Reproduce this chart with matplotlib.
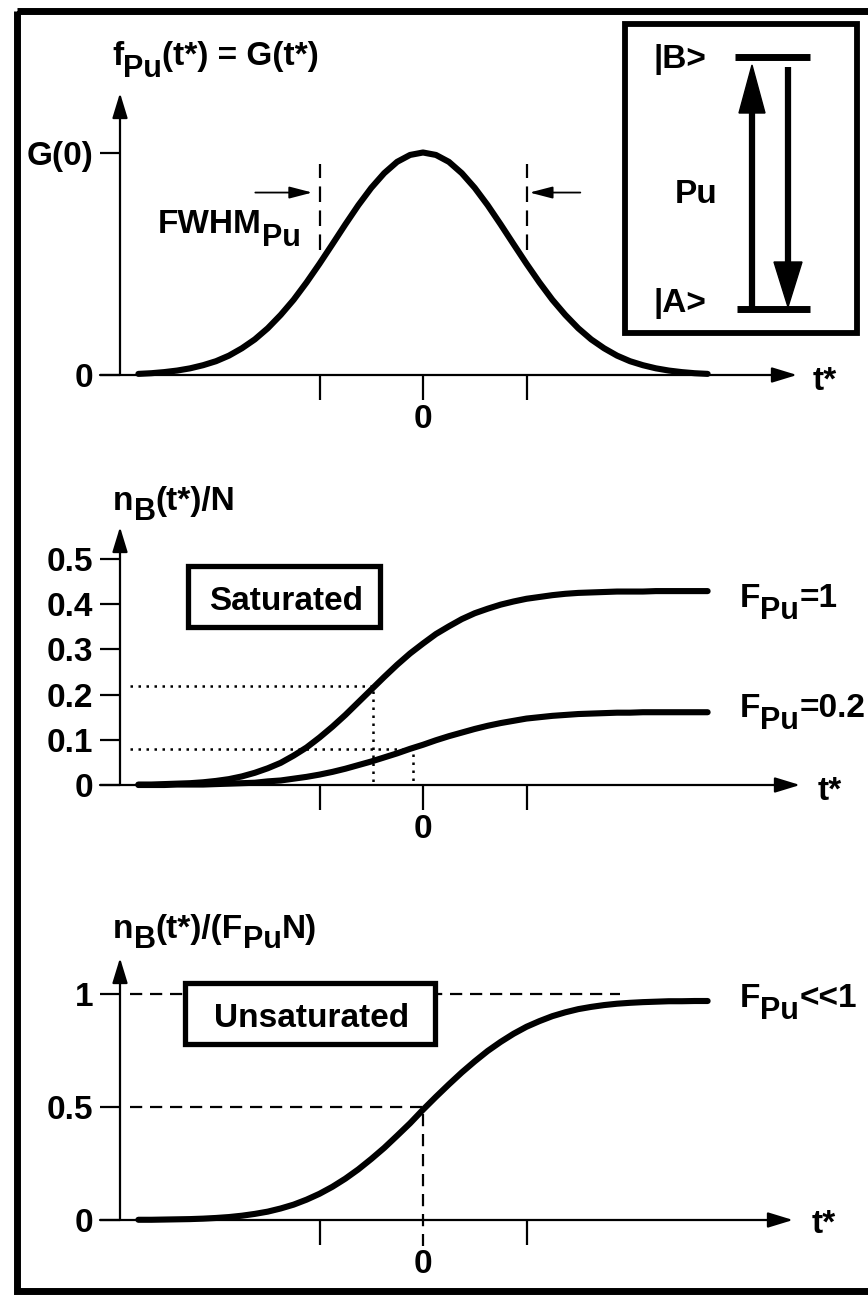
import matplotlib
matplotlib.use('Agg')
import matplotlib.pyplot as plt
from matplotlib.patches import Rectangle, Polygon

plt.rcParams['font.family'] = ['Liberation Sans', 'DejaVu Sans']
plt.rcParams['font.weight'] = 'bold'

W, H, DPI = 868, 1295, 100

# ---------------- data ----------------
t_star = [-2.75, -2.625, -2.5, -2.375, -2.25, -2.125, -2.0, -1.875, -1.75, -1.625, -1.5,
          -1.375, -1.25, -1.125, -1.0, -0.875, -0.75, -0.625, -0.5, -0.375, -0.25, -0.125,
          0.0, 0.125, 0.25, 0.375, 0.5, 0.625, 0.75, 0.875, 1.0, 1.125, 1.25, 1.375, 1.5,
          1.625, 1.75, 1.875, 2.0, 2.125, 2.25, 2.375, 2.5, 2.625, 2.75]
pulse_G = [0.005, 0.008, 0.013, 0.020, 0.030, 0.044, 0.062, 0.087, 0.120, 0.160, 0.210,
           0.270, 0.338, 0.416, 0.500, 0.588, 0.677, 0.763, 0.841, 0.907, 0.958, 0.989,
           1.000, 0.989, 0.958, 0.907, 0.841, 0.763, 0.677, 0.588, 0.500, 0.416, 0.338, 0.270, 0.210,
           0.160, 0.120, 0.087, 0.062, 0.044, 0.030, 0.020, 0.013, 0.008, 0.005]
nB_F1 = [0.001, 0.001, 0.002, 0.003, 0.004, 0.006, 0.009, 0.013, 0.019, 0.027, 0.037,
         0.049, 0.065, 0.083, 0.105, 0.129, 0.155, 0.183, 0.211, 0.239, 0.266, 0.291,
         0.313, 0.334, 0.351, 0.367, 0.380, 0.390, 0.399, 0.406, 0.412, 0.416, 0.420, 0.423, 0.425,
         0.426, 0.427, 0.428, 0.428, 0.428, 0.429, 0.429, 0.429, 0.429, 0.429]
nB_F02 = [0.000, 0.000, 0.000, 0.001, 0.001, 0.001, 0.002, 0.003, 0.004, 0.005, 0.008,
          0.010, 0.014, 0.018, 0.023, 0.029, 0.036, 0.044, 0.052, 0.061, 0.070, 0.080,
          0.089, 0.099, 0.108, 0.116, 0.124, 0.131, 0.137, 0.142, 0.147, 0.150, 0.153, 0.155, 0.157,
          0.158, 0.159, 0.160, 0.160, 0.161, 0.161, 0.161, 0.161, 0.161, 0.161]
nB_unsat = [0.001, 0.001, 0.002, 0.003, 0.004, 0.006, 0.009, 0.013, 0.019, 0.027, 0.037,
            0.051, 0.068, 0.090, 0.116, 0.147, 0.183, 0.224, 0.270, 0.319, 0.373, 0.428,
            0.488, 0.545, 0.600, 0.653, 0.702, 0.748, 0.788, 0.824, 0.855, 0.880, 0.902, 0.919, 0.933,
            0.943, 0.951, 0.957, 0.961, 0.964, 0.966, 0.968, 0.968, 0.969, 0.969]

fwhm_edges = [-1.0, 1.0]
fwhm_span = [0.56, 0.95]
x_ticks = [-1.0, 0.0, 1.0]
x_ticklabels = ['', '0', '']
p1_yticks = [0.0, 1.0]
p1_yticklabels = ['0', 'G(0)']
p2_yticks = [0.0, 0.1, 0.2, 0.3, 0.4, 0.5]
p2_yticklabels = ['0', '0.1', '0.2', '0.3', '0.4', '0.5']
p3_yticks = [0.0, 0.5, 1.0]
p3_yticklabels = ['0', '0.5', '1']
sat_marks_y = [0.22, 0.08]
sat_marks_t = [-0.48, -0.10]
unsat_levels = [1.0, 0.5]
unsat_level_ends = [1.90, 0.0]

# ---------------- layout ----------------
FS = 24
SUBFS = 22
T0, SX = 423.0, 103.5
YAX_PX, XSTART_PX = 120, 100
L_PX, R_PX = 20, 862

fig = plt.figure(figsize=(W / DPI, H / DPI), dpi=DPI)
fig.patch.set_facecolor('white')


def tx(px):
    return (px - T0) / SX


def make_panel(ytop, ybot, y0, sy, xtip_px, ytip_px, yticks, yticklabels):
    ax = fig.add_axes([L_PX / W, 1 - ybot / H, (R_PX - L_PX) / W, (ybot - ytop) / H])
    ax.set_xlim(tx(L_PX), tx(R_PX))
    ax.set_ylim((y0 - ybot) / sy, (y0 - ytop) / sy)
    ax.patch.set_alpha(0)
    for s in ax.spines.values():
        s.set_visible(False)
    ax.spines['left'].set_position(('data', tx(YAX_PX)))
    ax.spines['bottom'].set_position(('data', 0))
    ax.set_xticks(x_ticks)
    ax.set_xticklabels(x_ticklabels)
    ax.set_yticks(yticks)
    ax.set_yticklabels(yticklabels)
    ax.tick_params(axis='x', direction='out', length=18, width=1.6, pad=3, labelsize=FS)
    ax.tick_params(axis='y', direction='out', length=14.5, width=1.6, pad=5, labelsize=FS)
    ytip = (y0 - ytip_px) / sy
    arrow = dict(arrowstyle='-|>,head_length=0.85,head_width=0.26', lw=1.6, color='k',
                 shrinkA=0, shrinkB=0, mutation_scale=18)
    ax.annotate('', xy=(tx(YAX_PX), ytip), xytext=(tx(YAX_PX), 0), arrowprops=arrow)
    ax.annotate('', xy=(tx(xtip_px), 0), xytext=(tx(XSTART_PX), 0), arrowprops=arrow)
    return ax


curve = dict(color='k', lw=4.4, solid_capstyle='round', solid_joinstyle='round', zorder=3)

# Panel 1 : pulse
ax1 = make_panel(15, 460, 375, 222.5, 797, 93, p1_yticks, p1_yticklabels)
ax1.plot(t_star, pulse_G, **curve)
for e in fwhm_edges:
    ax1.plot([e, e], fwhm_span, color='k', lw=1.6, dashes=(7, 3.8))
head = dict(arrowstyle='-|>,head_length=1.0,head_width=0.26', lw=1.3, color='k',
            shrinkA=0, shrinkB=0, mutation_scale=14)
ax1.annotate('', xy=(-1.07, 0.82), xytext=(-1.62, 0.82), arrowprops=head)
ax1.annotate('', xy=(1.03, 0.82), xytext=(1.52, 0.82), arrowprops=head)

# Panel 2 : saturated
ax2 = make_panel(460, 870, 785, 452.0, 800, 527, p2_yticks, p2_yticklabels)
ax2.plot(t_star, nB_F1, **curve)
ax2.plot(t_star, nB_F02, **curve)
for yv, tv in zip(sat_marks_y, sat_marks_t):
    ax2.plot([tx(130), tv, tv], [yv, yv, 0], color='k', lw=1.8, dashes=(1, 2.2))

# Panel 3 : unsaturated
ax3 = make_panel(870, 1285, 1220, 226.0, 793, 958, p3_yticks, p3_yticklabels)
ax3.plot(t_star, nB_unsat, **curve)
ax3.plot([tx(130), unsat_level_ends[0]], [unsat_levels[0]] * 2, color='k', lw=1.6, dashes=(5.5, 3.5))
ax3.plot([tx(130), unsat_level_ends[1], unsat_level_ends[1]],
         [unsat_levels[1], unsat_levels[1], -0.115], color='k', lw=1.6, dashes=(5.5, 3.5))
ax3.xaxis.get_major_ticks()[1].tick1line.set_visible(False)

# ---------------- overlay (pixel coordinates) ----------------
ov = fig.add_axes([0, 0, 1, 1])
ov.set_xlim(0, W)
ov.set_ylim(H, 0)
ov.axis('off')
ov.patch.set_alpha(0)

renderer = fig.canvas.get_renderer()


def rich(x, y, parts, size=FS, sub_size=SUBFS, drop=12):
    cur = x
    for s, sub in parts:
        t = ov.text(cur, y + (drop if sub else 0), s, fontsize=sub_size if sub else size,
                    fontweight='bold', va='baseline', ha='left', zorder=6)
        cur += t.get_window_extent(renderer).width
    return cur


# titles
rich(112, 65, [('f', False), ('Pu', True), ('(t*) = G(t*)', False)], drop=12)
rich(113, 510, [('n', False), ('B', True), ('(t*)/N', False)], drop=10)
rich(113, 938, [('n', False), ('B', True), ('(t*)/(F', False), ('Pu', True), ('N)', False)], drop=10)
rich(158, 233, [('FWHM', False), ('Pu', True)], drop=13)

# t* axis names
for xx, yy in [(813, 390), (818, 800), (812, 1233)]:
    ov.text(xx, yy, 't*', fontsize=FS, fontweight='bold', va='baseline', ha='left')

# curve labels
rich(740, 607, [('F', False), ('Pu', True), ('=1', False)], drop=12)
rich(740, 717, [('F', False), ('Pu', True), ('=0.2', False)], drop=12)
rich(740, 1007, [('F', False), ('Pu', True), ('<<1', False)], drop=12)

# boxed regime labels
ov.add_patch(Rectangle((188, 566), 192, 61, fill=True, facecolor='white', edgecolor='k', lw=3.8, zorder=5))
ov.text(286, 610, 'Saturated', fontsize=FS, fontweight='bold', ha='center', va='baseline', zorder=6)
ov.add_patch(Rectangle((185, 983), 250, 61, fill=True, facecolor='white', edgecolor='k', lw=3.8, zorder=5))
ov.text(312, 1027, 'Unsaturated', fontsize=FS, fontweight='bold', ha='center', va='baseline', zorder=6)

# inset: two-level scheme
ov.add_patch(Rectangle((625, 24), 232, 309, fill=False, edgecolor='k', lw=4.2))
ov.plot([735, 810], [57, 57], color='k', lw=5, solid_capstyle='butt')
ov.plot([737, 810], [309, 309], color='k', lw=5, solid_capstyle='butt')
ov.plot([752, 752], [309, 100], color='k', lw=4.5, solid_capstyle='butt')
ov.add_patch(Polygon([(752, 65), (739, 113), (765, 113)], closed=True, color='k'))
ov.plot([788, 788], [67, 275], color='k', lw=4.5, solid_capstyle='butt')
ov.add_patch(Polygon([(788, 307), (774, 262), (802, 262)], closed=True, color='k'))
ov.text(653, 68, '|B>', fontsize=FS, fontweight='bold', va='baseline', ha='left')
ov.text(653, 312, '|A>', fontsize=FS, fontweight='bold', va='baseline', ha='left')
ov.text(675, 203, 'Pu', fontsize=FS, fontweight='bold', va='baseline', ha='left')

# outer frame
ov.add_patch(Rectangle((16.5, 11), W + 20, 1280, fill=False, edgecolor='k', lw=5, clip_on=False))

fig.savefig('out.png', dpi=DPI, facecolor='white')
